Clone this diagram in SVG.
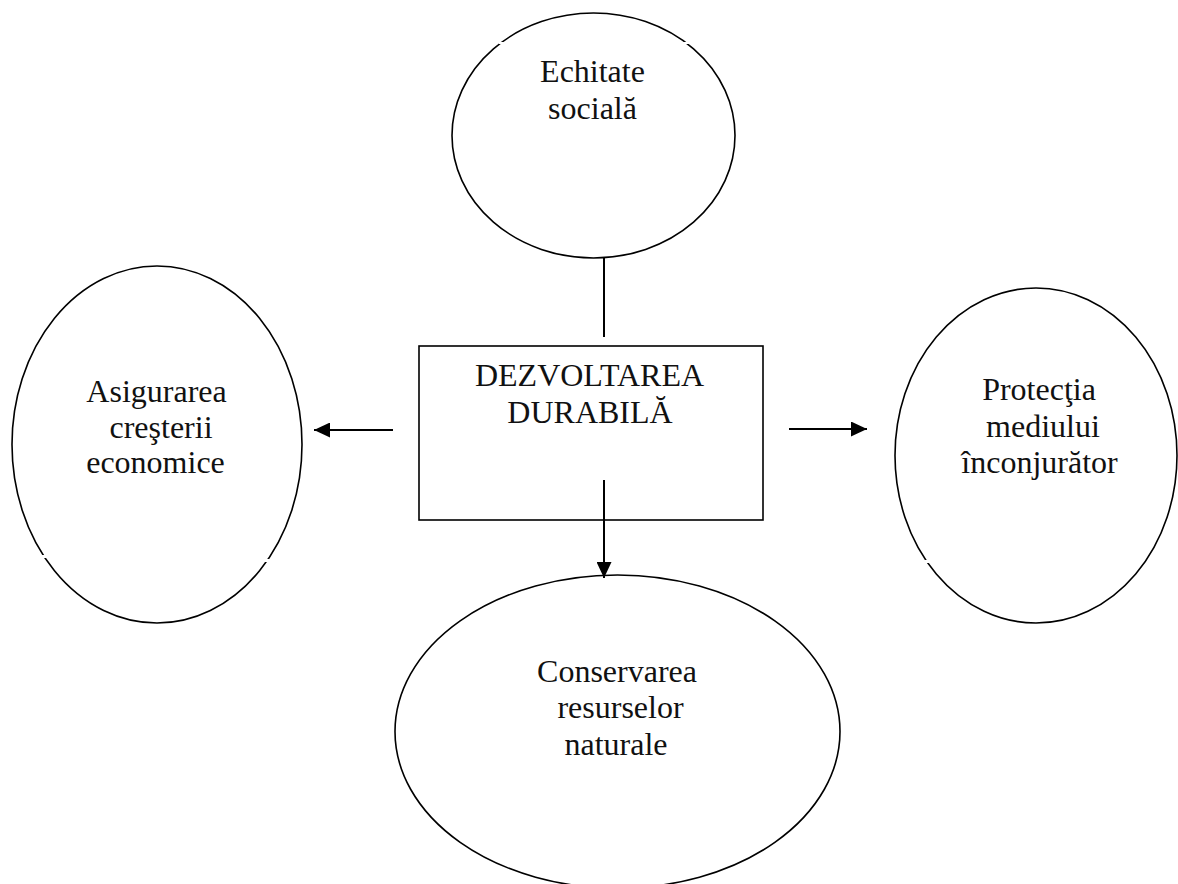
<svg xmlns="http://www.w3.org/2000/svg" width="1178" height="884" viewBox="0 0 1178 884">
<style>
.node{fill:#fff;stroke:#000;stroke-width:1.6}
.lbl{font-family:"Liberation Serif","Times New Roman",serif;font-size:32px;fill:#111;text-anchor:middle}
.conn{stroke:#000;stroke-width:2;fill:none}
.gap{fill:#fff}
</style>
<defs>
<marker id="arr" markerUnits="userSpaceOnUse" markerWidth="17" markerHeight="15" refX="16" refY="7.5" orient="auto">
<path d="M0,0 L16,7.5 L0,15 Z" fill="#000"/>
</marker>
</defs>
<rect width="1178" height="884" fill="#fff"/>
<g id="node-echitate">
<ellipse class="node" cx="593.5" cy="135.5" rx="141.5" ry="122.5"/>
<text class="lbl" x="592.5" y="82">Echitate</text>
<text class="lbl" x="592.5" y="119">socială</text>
</g>
<g id="node-asigurarea">
<ellipse class="node" cx="157" cy="444.5" rx="145" ry="178.5"/>
<text class="lbl" x="156.5" y="402">Asigurarea</text>
<text class="lbl" x="161" y="438">creşterii</text>
<text class="lbl" x="155.5" y="473">economice</text>
</g>
<g id="node-dezvoltarea">
<rect class="node" x="419" y="346" width="344" height="174"/>
<text class="lbl" x="589.5" y="386">DEZVOLTAREA</text>
<text class="lbl" x="590" y="423">DURABILĂ</text>
</g>
<g id="node-protectia">
<ellipse class="node" cx="1036" cy="455.5" rx="141" ry="167.5"/>
<text class="lbl" x="1039" y="400">Protecţia</text>
<text class="lbl" x="1043" y="437">mediului</text>
<text class="lbl" x="1039.5" y="473">înconjurător</text>
</g>
<g id="node-conservarea">
<ellipse class="node" cx="617.5" cy="731.6" rx="222.5" ry="156.6"/>
<text class="lbl" x="617" y="682">Conservarea</text>
<text class="lbl" x="620.5" y="718">resurselor</text>
<text class="lbl" x="616" y="755">naturale</text>
</g>
<g id="connectors">
<line class="conn" x1="604" y1="258" x2="604" y2="337"/>
<line class="conn" x1="393" y1="430" x2="314" y2="430" marker-end="url(#arr)"/>
<line class="conn" x1="789" y1="429" x2="867" y2="429" marker-end="url(#arr)"/>
<line class="conn" x1="604" y1="480" x2="604" y2="578" marker-end="url(#arr)"/>
</g>
<g id="scan-gaps">
<rect class="gap" x="499" y="42" width="6" height="2"/>
<rect class="gap" x="683" y="42" width="6" height="2"/>
<rect class="gap" x="40" y="555" width="7" height="3"/>
<rect class="gap" x="265" y="559" width="7" height="3"/>
<rect class="gap" x="924" y="560" width="7" height="3"/>
<rect class="gap" x="1149" y="560" width="7" height="3"/>
</g>
</svg>
